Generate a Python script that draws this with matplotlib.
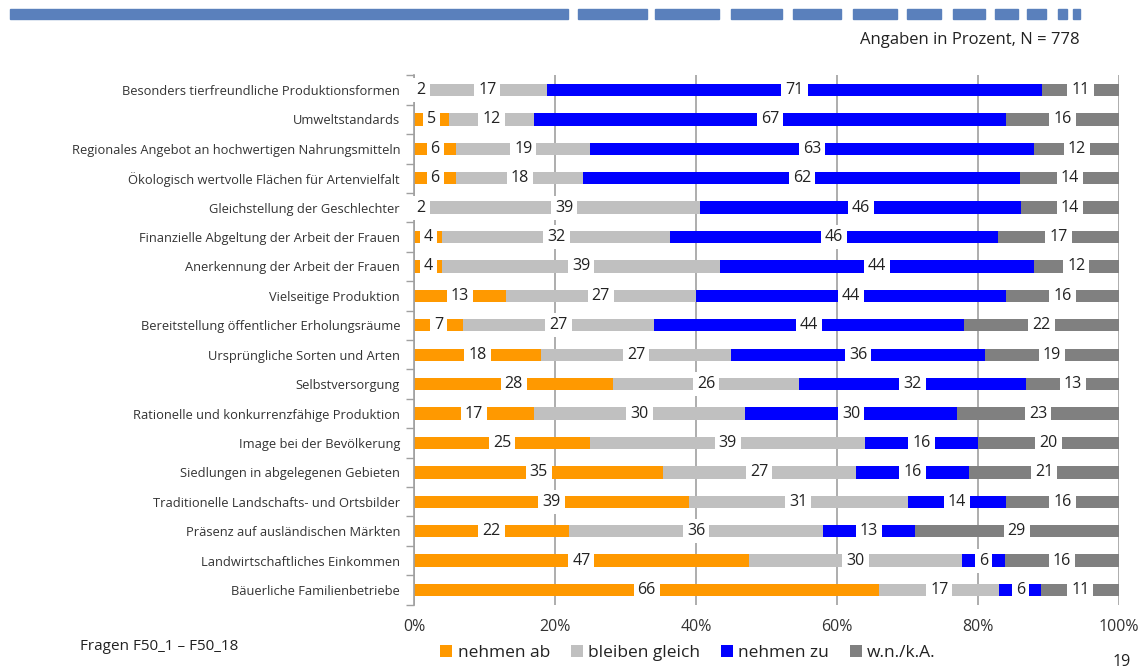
import numpy as np
import matplotlib.pyplot as plt
from matplotlib.patches import Rectangle

plt.rcParams['font.family'] = ['Open Sans', 'DejaVu Sans']

# categories (top to bottom)
categories = [
    "Besonders tierfreundliche Produktionsformen",
    "Umweltstandards",
    "Regionales Angebot an hochwertigen Nahrungsmitteln",
    "Ökologisch wertvolle Flächen für Artenvielfalt",
    "Gleichstellung der Geschlechter",
    "Finanzielle Abgeltung der Arbeit der Frauen",
    "Anerkennung der Arbeit der Frauen",
    "Vielseitige Produktion",
    "Bereitstellung öffentlicher Erholungsräume",
    "Ursprüngliche Sorten und Arten",
    "Selbstversorgung",
    "Rationelle und konkurrenzfähige Produktion",
    "Image bei der Bevölkerung",
    "Siedlungen in abgelegenen Gebieten",
    "Traditionelle Landschafts- und Ortsbilder",
    "Präsenz auf ausländischen Märkten",
    "Landwirtschaftliches Einkommen",
    "Bäuerliche Familienbetriebe",
]
nehmen_ab = [2, 5, 6, 6, 2, 4, 4, 13, 7, 18, 28, 17, 25, 35, 39, 22, 47, 66]
bleiben_gleich = [17, 12, 19, 18, 39, 32, 39, 27, 27, 27, 26, 30, 39, 27, 31, 36, 30, 17]
nehmen_zu = [71, 67, 63, 62, 46, 46, 44, 44, 44, 36, 32, 30, 16, 16, 14, 13, 6, 6]
wnka = [11, 16, 12, 14, 14, 17, 12, 16, 22, 19, 13, 23, 20, 21, 16, 29, 16, 11]

series = [nehmen_ab, bleiben_gleich, nehmen_zu, wnka]
series_names = ["nehmen ab", "bleiben gleich", "nehmen zu", "w.n./k.A."]
colors = ["#FF9900", "#C0C0C0", "#0000FF", "#808080"]

# top decoration bar segments (x start, x end in pixels)
deco = [(10, 568), (578, 647), (655, 719), (731, 782), (793, 841), (853, 897),
        (907, 941), (953, 985), (995, 1018), (1027, 1046), (1058, 1067), (1073, 1080)]

W, H = 1143, 670
fig = plt.figure(figsize=(W / 100, H / 100), dpi=100)
ax = fig.add_axes([414 / W, 1 - 604.7 / H, 705 / W, 529.4 / H])

data = np.array(series, dtype=float)
totals = data.sum(axis=0)
shares = data / totals * 100
y = np.arange(len(categories))

left = np.zeros(len(categories))
for vals, sh, col, name in zip(series, shares, colors, series_names):
    ax.barh(y, sh, left=left, height=0.42, color=col, label=name, zorder=2)
    for yi, v, s, l in zip(y, vals, sh, left):
        ax.text(l + s / 2, yi, str(v), ha='center', va='center', fontsize=11.5,
                color='#222222', zorder=4,
                bbox=dict(boxstyle='square,pad=0.25', fc='white', ec='none'))
    left += sh

ax.set_xlim(0, 100)
ax.set_ylim(len(categories) - 0.5, -0.5)
ax.set_yticks(y)
ax.set_yticklabels(categories, fontsize=9.3, color='#333333')
ax.tick_params(axis='y', length=0, pad=10)
ax.set_yticks(np.arange(-0.5, len(categories) + 0.5, 1), minor=True)
ax.tick_params(axis='y', which='minor', length=6, color='#A0A0A0', width=1)
ax.set_xticks([0, 20, 40, 60, 80, 100])
ax.set_xticklabels(["0%", "20%", "40%", "60%", "80%", "100%"], fontsize=11.5, color='#333333')
ax.tick_params(axis='x', length=0, pad=10)
ax.grid(axis='x', color='#A0A0A0', linewidth=1.2, zorder=0)
for s in ['top', 'right', 'bottom']:
    ax.spines[s].set_visible(False)
ax.spines['left'].set_color('#A0A0A0')
ax.spines['left'].set_linewidth(1.2)
ax.set_axisbelow(True)

# decoration bar at top
for x0, x1 in deco:
    fig.patches.append(Rectangle((x0 / W, 1 - 19 / H), (x1 - x0) / W, 10 / H,
                                 transform=fig.transFigure, color='#5A80BC'))

fig.text(1080 / W, 1 - 40 / H, "Angaben in Prozent, N = 778", ha='right', va='center',
         fontsize=12, color='#222222')
fig.text(80 / W, 1 - 647 / H, "Fragen F50_1 – F50_18", ha='left', va='center',
         fontsize=11, color='#222222')
fig.text(1122 / W, 1 - 662 / H, "19", ha='center', va='center', fontsize=11.5, color='#222222')

handles, labels = ax.get_legend_handles_labels()
fig.legend(handles, labels, loc='center', bbox_to_anchor=(688 / W, 1 - 653 / H), ncol=4,
           frameon=False, fontsize=12.5, handlelength=0.7, handleheight=0.7,
           handletextpad=0.3, columnspacing=1.2, labelcolor='#222222')

fig.savefig("out.png", dpi=100)
